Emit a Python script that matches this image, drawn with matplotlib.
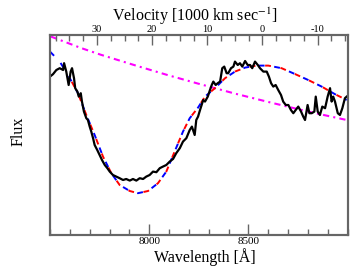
import matplotlib
matplotlib.use('Agg')
from matplotlib import pyplot as plt
from matplotlib.ticker import FixedLocator, MultipleLocator

plt.rcParams['font.family'] = ['Liberation Serif', 'DejaVu Serif']
plt.rcParams['mathtext.fontset'] = 'stix'
plt.rcParams['axes.unicode_minus'] = False

# observed spectrum (wavelength in Angstrom, scaled flux)
obs_wave = [7500, 7515, 7532, 7549, 7566, 7571, 7582, 7594, 7604, 7611, 7621, 7627, 7638, 7645,
            7655, 7661, 7671, 7683, 7691, 7700, 7708, 7717, 7725, 7738, 7750, 7762, 7776, 7789,
            7801, 7817, 7834, 7851, 7868, 7884, 7902, 7918, 7935, 7952, 7969, 7985, 8002, 8019,
            8036, 8053, 8069, 8086, 8103, 8120, 8136, 8154, 8170, 8187, 8204, 8215, 8229, 8237,
            8246, 8256, 8264, 8272, 8281, 8295, 8306, 8315, 8323, 8335, 8345, 8357, 8368, 8378,
            8390, 8398, 8412, 8424, 8432, 8446, 8457, 8469, 8483, 8496, 8508, 8519, 8533, 8547,
            8558, 8575, 8592, 8603, 8614, 8625, 8637, 8650, 8664, 8675, 8688, 8701, 8714, 8726,
            8738, 8751, 8765, 8776, 8785, 8798, 8807, 8819, 8832, 8839, 8849, 8860, 8872, 8886,
            8899, 8911, 8919, 8927, 8936, 8950, 8961, 8973, 8986, 8995]
obs_flux = [0.792, 0.804, 0.825, 0.834, 0.825, 0.859, 0.817, 0.750, 0.817, 0.834, 0.784, 0.734,
            0.717, 0.692, 0.709, 0.667, 0.617, 0.584, 0.575, 0.542, 0.517, 0.484, 0.450, 0.425,
            0.400, 0.375, 0.350, 0.334, 0.317, 0.300, 0.292, 0.284, 0.275, 0.280, 0.272, 0.280,
            0.272, 0.284, 0.280, 0.292, 0.300, 0.317, 0.314, 0.334, 0.342, 0.350, 0.367, 0.380,
            0.409, 0.434, 0.467, 0.484, 0.525, 0.542, 0.500, 0.575, 0.592, 0.625, 0.650, 0.675,
            0.667, 0.692, 0.725, 0.750, 0.767, 0.750, 0.759, 0.767, 0.834, 0.842, 0.809, 0.809,
            0.834, 0.842, 0.867, 0.850, 0.859, 0.842, 0.870, 0.850, 0.850, 0.834, 0.867, 0.850,
            0.834, 0.817, 0.817, 0.792, 0.759, 0.742, 0.750, 0.725, 0.700, 0.667, 0.650, 0.650,
            0.625, 0.609, 0.625, 0.642, 0.617, 0.592, 0.575, 0.650, 0.609, 0.609, 0.617, 0.692,
            0.617, 0.600, 0.642, 0.634, 0.692, 0.734, 0.667, 0.692, 0.667, 0.609, 0.600, 0.634,
            0.684, 0.692]

# model fits
fit_wave = [7500, 7549, 7591, 7641, 7683, 7725, 7767, 7809, 7851, 7902, 7943, 7994, 8044, 8086,
            8128, 8170, 8204, 8246, 8281, 8331, 8382, 8432, 8483, 8541, 8600, 8667, 8734, 8801,
            8869, 8936, 8995]
fit_flux = [0.917, 0.867, 0.800, 0.709, 0.600, 0.500, 0.392, 0.309, 0.250, 0.220, 0.209, 0.220,
            0.259, 0.317, 0.417, 0.517, 0.584, 0.637, 0.692, 0.734, 0.784, 0.817, 0.837, 0.847,
            0.847, 0.834, 0.805, 0.775, 0.742, 0.704, 0.675]
fit2_start = 7550

# continuum
cont_wave = [7505, 7656, 7757, 7943, 8095, 8246, 8432, 8617, 8810, 8995]
cont_flux = [0.992, 0.935, 0.901, 0.844, 0.799, 0.757, 0.707, 0.661, 0.615, 0.575]

# velocity scale of the top axis
v_zero_wave = 8570.6
v_per_angstrom = 0.03598  # 1000 km/s per Angstrom

wave_min, wave_max = 7500, 9000
grey = '#666666'

fig = plt.figure(figsize=(3.55, 2.74), dpi=100)
ax = fig.add_axes([50 / 355, 1 - 235 / 274, 297.7 / 355, 200 / 274])

ax.plot(cont_wave, cont_flux, color='#ff00ff', lw=1.5, linestyle=(0, (3, 2, 1, 2)))
ax.plot(fit_wave, fit_flux, color='#0000ff', lw=1.4, linestyle=(0, (3, 5)))
fit2_wave = [w for w in fit_wave if w >= fit2_start]
fit2_flux = [f for w, f in zip(fit_wave, fit_flux) if w >= fit2_start]
ax.plot(fit2_wave, fit2_flux, color='#ff0000', lw=1.4, linestyle=(4, (3, 5)))
ax.plot(obs_wave, obs_flux, color='black', lw=1.6)

ax.set_xlim(wave_min, wave_max)
ax.set_ylim(0, 1)
ax.set_yticks([])
ax.xaxis.set_major_locator(FixedLocator([8000, 8500]))
ax.xaxis.set_minor_locator(MultipleLocator(100))
ax.tick_params(axis='x', which='both', direction='in', colors=grey, labelcolor='black',
               labelsize=8, pad=1.5, width=1)
ax.tick_params(axis='x', which='major', length=8)
ax.tick_params(axis='x', which='minor', length=4)

top = ax.twiny()
top.set_xlim((v_zero_wave - wave_min) * v_per_angstrom, (v_zero_wave - wave_max) * v_per_angstrom)
top.xaxis.set_major_locator(FixedLocator([-10, 0, 10, 20, 30]))
top.xaxis.set_minor_locator(MultipleLocator(2.5))
top.tick_params(axis='x', which='both', direction='in', colors=grey, labelcolor='black',
                labelsize=7.5, pad=0.5, width=1)
top.tick_params(axis='x', which='major', length=7)
top.tick_params(axis='x', which='minor', length=4)
top.set_yticks([])

for a in (ax, top):
    for spine in a.spines.values():
        spine.set_color(grey)
        spine.set_linewidth(1.5)

fig.text(204.7 / 355, 1 - 257 / 274, 'Wavelength [Å]', ha='center', va='center', fontsize=11.5)
fig.text(194.5 / 355, 1 - 16 / 274, r'Velocity [1000 km sec$^{-1}$]', ha='center', va='center',
         fontsize=11.5)
fig.text(19 / 355, 1 - 131 / 274, 'Flux', ha='center', va='center', rotation=90, fontsize=11.5)

fig.savefig('out.png', dpi=100)
